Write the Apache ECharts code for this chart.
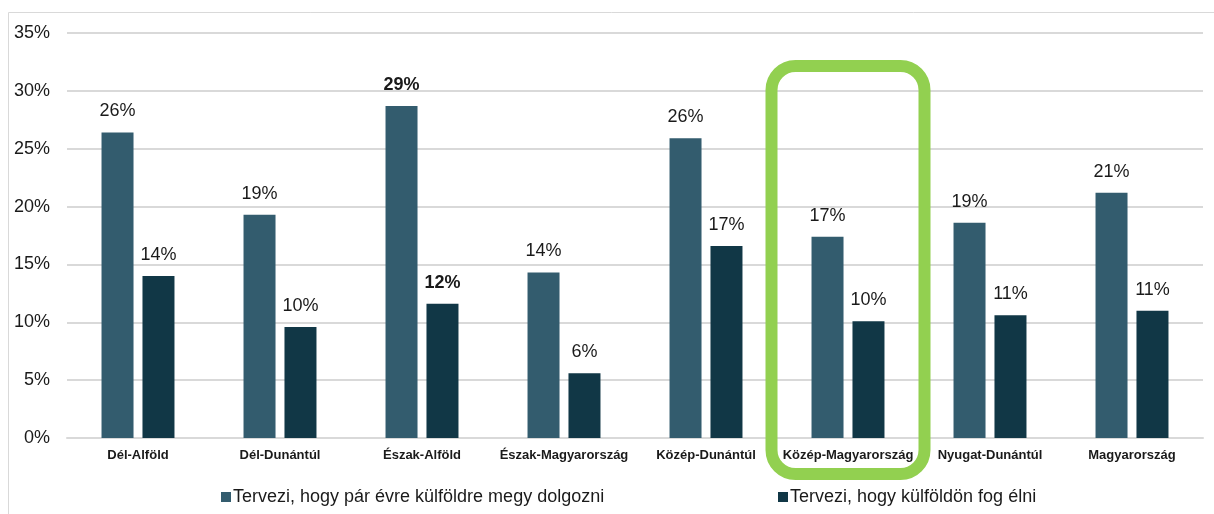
<!DOCTYPE html>
<html>
<head>
<meta charset="utf-8">
<script src="https://cdn.jsdelivr.net/npm/echarts@6/dist/echarts.min.js"></script>
<style>
html,body{margin:0;padding:0;background:#fff;}
#chart{width:1214px;height:514px;}
</style>
</head>
<body>
<div id="chart"></div>
<script>
const categories = ['Dél-Alföld','Dél-Dunántúl','Észak-Alföld','Észak-Magyarország','Közép-Dunántúl','Közép-Magyarország','Nyugat-Dunántúl','Magyarország'];
const seriesNames = ['Tervezi, hogy pár évre külföldre megy dolgozni','Tervezi, hogy külföldön fog élni'];
const workAbroad = [26.4, 19.3, 28.7, 14.3, 25.9, 17.4, 18.6, 21.2];
const liveAbroad = [14.0, 9.6, 11.6, 5.6, 16.6, 10.1, 10.6, 11.0];
const yTicks = [0, 5, 10, 15, 20, 25, 30, 35];
const boldCategory = 'Észak-Alföld';
const highlightCategory = 'Közép-Magyarország';

const FONT = '"Liberation Sans", Arial, sans-serif';
const chart = echarts.init(document.getElementById('chart'), null, {renderer:'canvas'});

function mkData(vals){
  return vals.map((v,i)=> categories[i]===boldCategory
    ? {value:v, label:{fontWeight:'bold'}} : v);
}
const labelCfg = {
  show:true, position:'top', distance:12,
  fontFamily:FONT, fontSize:18, color:'#1a1a1a',
  formatter: p => Math.round(p.value) + '%'
};

chart.setOption({
  animation:false,
  grid:{left:67, right:11, top:33, bottom:76, containLabel:false},
  legend:[
    {data:[seriesNames[0]], left:216, top:483, itemWidth:10, itemHeight:10, icon:'rect',
     textStyle:{fontFamily:FONT, fontSize:18, color:'#1a1a1a', padding:[0,0,0,-3]}},
    {data:[seriesNames[1]], left:773, top:483, itemWidth:10, itemHeight:10, icon:'rect',
     textStyle:{fontFamily:FONT, fontSize:18, color:'#1a1a1a', padding:[0,0,0,-3]}}
  ],
  xAxis:{
    type:'category', data:categories,
    axisLine:{show:true, lineStyle:{color:'#d9d9d9', width:2}},
    axisTick:{show:false},
    axisLabel:{fontFamily:FONT, fontSize:13, fontWeight:'bold', color:'#1a1a1a', margin:11, interval:0}
  },
  yAxis:{
    type:'value', min:yTicks[0], max:yTicks[yTicks.length-1], interval:yTicks[1]-yTicks[0],
    axisLine:{show:false}, axisTick:{show:false},
    splitLine:{lineStyle:{color:'#d9d9d9', width:2}},
    axisLabel:{fontFamily:FONT, fontSize:18, color:'#1a1a1a', margin:17, formatter: v => v + '%'}
  },
  series:[
    {name:seriesNames[0], type:'bar', data:mkData(workAbroad), barWidth:32, barGap:'28%',
     itemStyle:{color:'#335C6E'}, label:labelCfg},
    {name:seriesNames[1], type:'bar', data:mkData(liveAbroad), barWidth:32, barGap:'28%',
     itemStyle:{color:'#113746'}, label:labelCfg}
  ]
});

const cx = chart.convertToPixel({xAxisIndex:0}, highlightCategory);
const y0 = chart.convertToPixel({yAxisIndex:0}, 0);
const yTop = chart.convertToPixel({yAxisIndex:0}, yTicks[yTicks.length-1]);
chart.setOption({
  graphic:[
    {type:'rect', silent:true, shape:{x:8.5, y:12.5, width:1400, height:600},
     style:{fill:null, stroke:'#d9d9d9', lineWidth:1}},
    {type:'rect', silent:true, z:100,
     shape:{x:cx-76.5, y:yTop+33, width:153, height:(y0+36)-(yTop+33), r:24},
     style:{fill:null, stroke:'#92D050', lineWidth:12}}
  ]
});
</script>
</body>
</html>
